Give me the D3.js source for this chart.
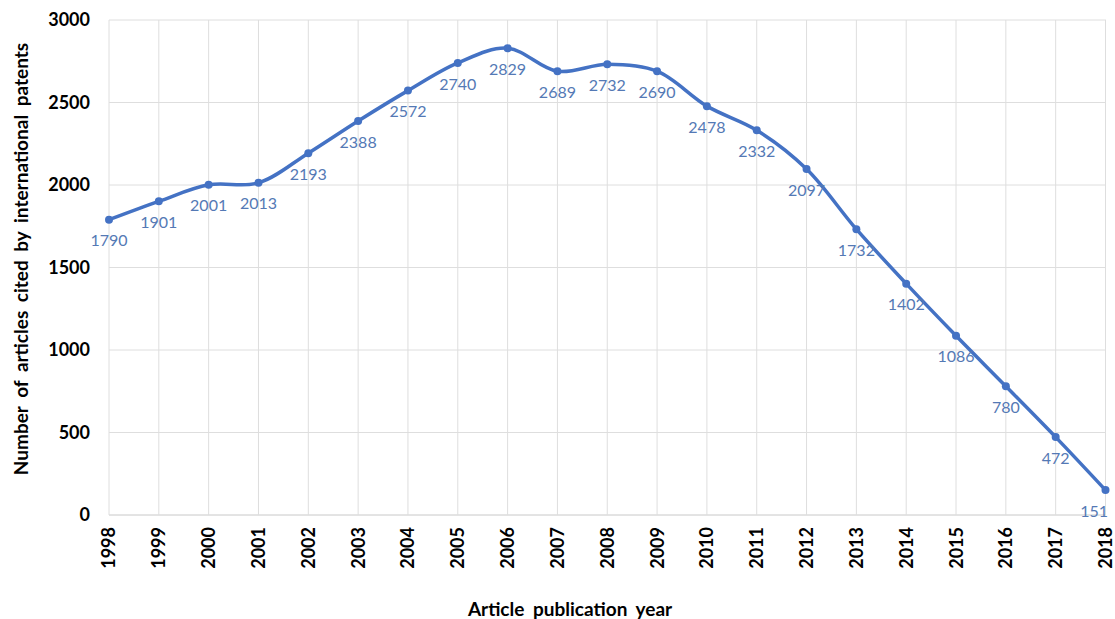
<!DOCTYPE html>
<html lang="en">

<head>
    <script src="https://d3js.org/d3.v7.min.js"></script>
    <style>
        body { margin: 0; background: #fff; }
        text { font-family: Lato, "Open Sans", sans-serif; }
    </style>
</head>

<body>
    <div id="graph"></div>
    <script>
        // values
        var years = ["1998", "1999", "2000", "2001", "2002", "2003", "2004", "2005", "2006", "2007",
            "2008", "2009", "2010", "2011", "2012", "2013", "2014", "2015", "2016", "2017", "2018"];
        var counts = [1790, 1901, 2001, 2013, 2193, 2388, 2572, 2740, 2829, 2689,
            2732, 2690, 2478, 2332, 2097, 1732, 1402, 1086, 780, 472, 151];
        var yTicks = [0, 500, 1000, 1500, 2000, 2500, 3000];

        var data = years.map((y, i) => ({ year: y, value: counts[i] }));

        var margin = { top: 20, right: 9, bottom: 104, left: 109 },
            W = 1115, H = 619,
            width = W - margin.left - margin.right,
            height = H - margin.top - margin.bottom;

        var svg = d3.select("#graph").append("svg")
            .attr("width", W)
            .attr("height", H);

        var g = svg.append("g")
            .attr("transform", "translate(" + margin.left + "," + margin.top + ")");

        var x = d3.scalePoint()
            .domain(years)
            .range([0, width - 0.5]);

        var y = d3.scaleLinear()
            .domain([0, 3000])
            .range([height, 0]);

        // horizontal grid
        g.append("g")
            .selectAll("line")
            .data(yTicks)
            .enter().append("line")
            .attr("x1", 0).attr("x2", width)
            .attr("y1", d => y(d)).attr("y2", d => y(d))
            .attr("stroke", d => d === 0 ? "#c8c8c8" : "#dedede")
            .attr("stroke-width", 1);

        // vertical grid
        g.append("g")
            .selectAll("line")
            .data(years)
            .enter().append("line")
            .attr("x1", d => x(d)).attr("x2", d => x(d))
            .attr("y1", 0).attr("y2", height)
            .attr("stroke", "#dedede")
            .attr("stroke-width", 1);

        // y tick labels
        g.append("g")
            .selectAll("text")
            .data(yTicks)
            .enter().append("text")
            .attr("x", -19)
            .attr("y", d => y(d))
            .attr("dy", "0.35em")
            .attr("text-anchor", "end")
            .style("font-size", "18px")
            .style("font-weight", "700")
            .attr("fill", "#000")
            .text(d => d);

        // x tick labels, rotated
        g.append("g")
            .selectAll("text")
            .data(years)
            .enter().append("text")
            .attr("transform", d => "translate(" + x(d) + "," + (height + 12) + ") rotate(-90)")
            .attr("dy", "0.36em")
            .attr("text-anchor", "end")
            .style("font-size", "18px")
            .style("font-weight", "700")
            .attr("fill", "#000")
            .text(d => d);

        // the smoothed line
        var line = d3.line()
            .x(d => x(d.year))
            .y(d => y(d.value))
            .curve(d3.curveCatmullRom.alpha(0.5));

        g.append("path")
            .datum(data)
            .attr("fill", "none")
            .attr("stroke", "#4472c4")
            .attr("stroke-width", 3.5)
            .attr("stroke-linejoin", "round")
            .attr("d", line);

        g.append("g")
            .selectAll("circle")
            .data(data)
            .enter().append("circle")
            .attr("cx", d => x(d.year))
            .attr("cy", d => y(d.value))
            .attr("r", 4)
            .attr("fill", "#4472c4");

        // data labels under each point; keep the last one inside the plot
        g.append("g")
            .selectAll("text")
            .data(data)
            .enter().append("text")
            .attr("x", d => x(d.year))
            .attr("y", d => y(d.value) + 21)
            .attr("dy", "0.35em")
            .attr("text-anchor", "middle")
            .style("font-size", "16px")
            .attr("fill", "#5479b5")
            .text(d => d.value)
            .each(function () {
                var b = this.getBBox();
                if (b.x + b.width > width + 2) {
                    d3.select(this).attr("x", width + 2 - b.width / 2);
                }
            });

        // axis titles
        svg.append("text")
            .attr("x", 570)
            .attr("y", 609)
            .attr("dy", "0.35em")
            .attr("text-anchor", "middle")
            .style("font-size", "19px")
            .style("font-weight", "700")
            .style("word-spacing", "4px")
            .text("Article publication  year");

        svg.append("text")
            .attr("transform", "translate(21," + 259 + ") rotate(-90)")
            .attr("dy", "0.35em")
            .attr("text-anchor", "middle")
            .style("font-size", "19px")
            .style("font-weight", "700")
            .style("word-spacing", "4px")
            .text("Number of articles cited by international patents");
    </script>
</body>

</html>
